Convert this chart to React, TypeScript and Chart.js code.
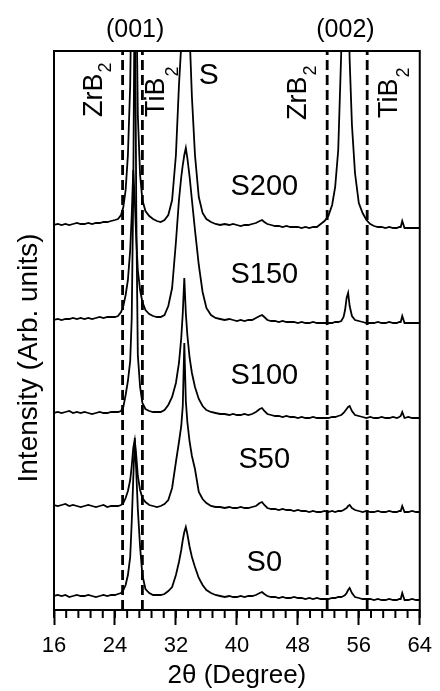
import React, { useEffect, useRef } from 'react';
import { Chart, registerables } from 'chart.js';

Chart.register(...registerables);

// 2θ grid (degrees)
const twoTheta = [
  16, 16.5, 17, 17.5, 18, 18.5, 19, 19.5, 20, 20.5, 21, 21.5, 22, 22.5, 23, 23.5, 24,
  24.4, 24.8, 25.1, 25.4, 25.7, 26.0, 26.2, 26.4, 26.6, 26.8, 27.0, 27.3, 27.6, 28.0, 28.5, 29.0, 29.5, 30.0,
  30.5, 31.0, 31.5, 32.0, 32.4, 32.7, 32.9, 33.1, 33.3, 33.5, 33.8, 34.1, 34.5, 35.0, 35.5, 36.0, 36.6, 37.2,
  37.8, 38.4, 39.0, 39.5, 40, 40.5, 41, 41.5, 42, 42.5, 43.0, 43.3, 43.6, 44.0, 44.5, 45, 45.5, 46, 46.5, 47,
  47.5, 48, 48.5, 49, 49.5, 50, 50.5, 51, 51.5,
  52.0, 52.5, 52.9, 53.3, 53.7, 54.0, 54.2, 54.4, 54.6, 54.8, 55.1, 55.5, 56.0, 56.5, 57.0, 57.5, 58, 58.5,
  59, 59.5, 60, 60.5, 61, 61.3, 61.5, 61.7, 62, 62.5, 63, 63.5, 64,
];

const sampleNames = ['S0', 'S50', 'S100', 'S150', 'S200'];
const sampleOffsets = [13, 104, 197, 290, 385];

const s0 = [
  1, 2, 1, 2, 0, 1, 2, 1, 1, 2, 1, 0, 1, 2, 1, 2, 2,
  3, 4, 7, 12, 22, 40, 75, 118, 159, 125, 88, 50, 22, 8, 4, 2, 2, 2, 3, 6, 10, 22, 35, 47, 57, 65, 70, 63, 50, 40, 30, 19, 12, 7, 4, 2,
  1, 0, 1, 0, 0, 1, 0, 1, 1, 2, 4, 5, 3, 1, 0, 0, -1, 0, -1, -1, 0, -1, -1, -2, -1, -2, -1, -2, -2,
  -2, -1, -1, 0, 0, 1, 2, 4, 7, 9, 4, 0, -1, -2, -2, -2, -3, -2, -3, -3, -2, -3, -3, -2, -2, 4, -3, -3, -2, -3, -3,
];
const s50 = [
  1, 0, 1, 2, 0, 1, 0, -1, 0, 1, 0, -1, 0, 1, -1, 0, 0,
  0, 1, 3, 8, 15, 26, 40, 58, 66, 50, 30, 16, 8, 4, 1, 0, -1, 0, 2, 6, 18, 44, 64, 80, 100, 163, 105, 84, 64, 50, 37, 14, 7, 3, 0, -1,
  -1, -2, -1, -2, -2, -1, -2, -2, -1, 0, 3, 4, 1, -2, -3, -3, -4, -3, -4, -4, -5, -4, -5, -5, -6, -5, -6, -6, -5,
  -6, -5, -6, -5, -5, -4, -3, -2, 0, 1, -2, -4, -5, -6, -5, -6, -6, -5, -6, -6, -5, -6, -6, -5, -5, 0, -6, -6, -5, -6, -6,
];
const s100 = [
  0, 1, 0, 1, 2, 0, 1, 0, 1, 0, -1, 0, 1, 0, 0, 1, 1,
  1, 2, 6, 18, 32, 52, 95, 220, 450, 200, 58, 26, 10, 4, 2, 1, 1, 1, 3, 8, 16, 30, 50, 75, 100, 135, 100, 78, 55, 40, 26, 14, 7, 3, 1, 0,
  -1, -1, -2, -1, -2, -2, -1, -2, -1, 1, 4, 5, 2, -1, -2, -3, -3, -4, -3, -4, -4, -5, -4, -5, -5, -4, -5, -5, -5,
  -5, -4, -4, -3, -2, 0, 2, 4, 6, 7, 2, -2, -3, -4, -5, -4, -5, -5, -4, -5, -5, -4, -5, -4, -3, 1, -5, -4, -5, -5, -5,
];
const s150 = [
  0, 1, 0, 1, 1, 2, 1, 2, 1, 2, 1, 2, 3, 2, 3, 3, 3,
  4, 8, 14, 25, 40, 70, 105, 150, 120, 80, 50, 30, 18, 10, 6, 4, 3, 3, 5, 14, 32, 78, 120, 143, 155, 165, 172, 162, 143, 120, 90, 55, 28, 12, 5, 2,
  1, 0, 1, 0, -1, 0, -1, 0, 0, 2, 4, 5, 3, 0, -1, -1, -2, -1, -2, -2, -2, -3, -2, -3, -3, -2, -3, -3, -3,
  -3, -3, -2, -2, -1, 3, 10, 22, 27, 14, 4, 0, -1, -2, -3, -3, -3, -2, -3, -3, -2, -3, -3, -2, -2, 4, -3, -3, -3, -3, -3,
];
const s200 = [
  0, 1, 0, 1, 0, 1, 2, 1, 1, 2, 1, 2, 2, 3, 3, 4, 5,
  6, 10, 18, 35, 70, 140, 260, 520, 480, 240, 110, 50, 25, 14, 9, 6, 4, 3, 5, 10, 25, 70, 140, 180, 220, 265, 270, 235, 190, 128, 70, 28, 12, 6, 3, 1,
  0, 1, 0, 1, 0, -1, 0, 0, 1, 2, 4, 5, 3, 1, 0, -1, -1, -2, -1, -2, -2, -2, -3, -2, -3, -2, -2, 1, 4,
  9, 20, 38, 75, 174, 300, 380, 320, 230, 165, 100, 52, 22, 12, 5, 1, -1, -2, -2, -3, -2, -3, -3, -2, -2, 4, -3, -3, -3, -3, -3,
];
const sampleSeries = [s0, s50, s100, s150, s200];

// reference peak positions (2θ) of ZrB2 / TiB2 (001) and (002)
const referencePeaks = [25.0, 27.6, 51.85, 57.1];

const xTickValues = [16, 24, 32, 40, 48, 56, 64];
const xMinorStep = 1.6;

// annotation layout (separate from data)
const planeLabels = [
  { text: '(001)', deg: 26.65, level: 580 },
  { text: '(002)', deg: 54.25, level: 580 },
];
const phaseLabels = [
  { main: 'ZrB', sub: '2', deg: 22.29, level: 493, drop: 9 },
  { main: 'TiB', sub: '2', deg: 30.5, level: 493, drop: 14 },
  { main: 'ZrB', sub: '2', deg: 49.1, level: 490, drop: 10 },
  { main: 'TiB', sub: '2', deg: 61.05, level: 492, drop: 12 },
];
const sLabel = { text: 'S', deg: 36.3, level: 534 };
const sampleLabelDeg = 43.6;
const sampleLabelLevels = [47, 150, 234, 335, 423];

const FONT = '"Liberation Sans", Arial, sans-serif';

const annotPlugin = {
  id: 'annot',
  afterDraw(chart: any) {
    const { ctx, chartArea, scales } = chart;
    const x = scales.x;
    const y = scales.y;
    ctx.save();
    ctx.strokeStyle = '#000';
    ctx.lineWidth = 2;
    ctx.strokeRect(chartArea.left, chartArea.top, chartArea.right - chartArea.left, chartArea.bottom - chartArea.top);
    // minor ticks
    for (let v = 16; v <= 64.001; v += xMinorStep) {
      const px = x.getPixelForValue(v);
      ctx.beginPath();
      ctx.moveTo(px, chartArea.bottom);
      ctx.lineTo(px, chartArea.bottom + 8);
      ctx.stroke();
    }
    ctx.fillStyle = '#000';
    ctx.textAlign = 'center';
    ctx.textBaseline = 'middle';
    ctx.font = `25px ${FONT}`;
    for (const p of planeLabels) {
      ctx.fillText(p.text, x.getPixelForValue(p.deg), y.getPixelForValue(p.level));
    }
    ctx.font = `30px ${FONT}`;
    ctx.fillText(sLabel.text, x.getPixelForValue(sLabel.deg), y.getPixelForValue(sLabel.level));
    ctx.font = `29px ${FONT}`;
    sampleNames.forEach((n, i) => {
      ctx.fillText(n, x.getPixelForValue(sampleLabelDeg), y.getPixelForValue(sampleLabelLevels[i]));
    });
    for (const ph of phaseLabels) {
      ctx.save();
      ctx.translate(x.getPixelForValue(ph.deg), y.getPixelForValue(ph.level));
      ctx.rotate(-Math.PI / 2);
      ctx.textAlign = 'left';
      ctx.textBaseline = 'alphabetic';
      ctx.font = `27px ${FONT}`;
      ctx.fillText(ph.main, 0, 0);
      const w = ctx.measureText(ph.main).width;
      ctx.font = `18px ${FONT}`;
      ctx.fillText(ph.sub, w + 1, ph.drop);
      ctx.restore();
    }
    // y-axis title
    ctx.save();
    ctx.translate(chartArea.left - 25, y.getPixelForValue(252));
    ctx.rotate(-Math.PI / 2);
    ctx.textAlign = 'center';
    ctx.textBaseline = 'middle';
    ctx.font = `28px ${FONT}`;
    ctx.fillText('Intensity (Arb. units)', 0, 0);
    ctx.restore();
    ctx.restore();
  },
};

export default function App() {
  const ref = useRef<HTMLCanvasElement>(null);
  useEffect(() => {
    if (!ref.current) return;
    const traces = sampleSeries.map((ser, i) => ({
      label: sampleNames[i],
      data: twoTheta.map((t, k) => ({ x: t, y: ser[k] + sampleOffsets[i] })),
      borderColor: '#000',
      borderWidth: 1.8,
      pointRadius: 0,
      tension: 0,
      fill: false,
    }));
    const dashes = referencePeaks.map((d) => ({
      label: 'ref' + d,
      data: [{ x: d, y: 0 }, { x: d, y: 559 }],
      borderColor: '#000',
      borderWidth: 2.8,
      borderDash: [10, 5],
      pointRadius: 0,
      fill: false,
    }));
    const chart = new Chart(ref.current, {
      type: 'line',
      data: { datasets: [...dashes, ...traces] as any },
      plugins: [annotPlugin],
      options: {
        animation: false,
        responsive: true,
        maintainAspectRatio: false,
        layout: { padding: { top: 51, right: 12, left: 0, bottom: 0 } },
        plugins: { legend: { display: false }, tooltip: { enabled: false } },
        scales: {
          x: {
            type: 'linear',
            min: 16,
            max: 64,
            afterFit: (s: any) => { s.height = 81; },
            afterBuildTicks: (s: any) => { s.ticks = xTickValues.map((v) => ({ value: v })); },
            ticks: { color: '#000', font: { family: FONT, size: 22 }, padding: 8, maxRotation: 0 },
            grid: { display: true, drawOnChartArea: false, drawTicks: true, tickLength: 15, tickWidth: 2, tickColor: '#000', color: '#000' },
            border: { display: true, color: '#000', width: 2 },
            title: { display: true, text: '2θ (Degree)', color: '#000', font: { family: FONT, size: 26 }, padding: { top: 0, bottom: 0 } },
          },
          y: {
            type: 'linear',
            min: 0,
            max: 559,
            afterFit: (s: any) => { s.width = 54; },
            ticks: { display: false },
            grid: { display: false },
            border: { display: true, color: '#000', width: 2 },
          },
        },
      },
    });
    return () => chart.destroy();
  }, []);
  return (
    <div style={{ position: 'fixed', left: 0, top: 0, width: 440, height: 691, background: '#fff' }}>
      <canvas ref={ref} />
    </div>
  );
}
